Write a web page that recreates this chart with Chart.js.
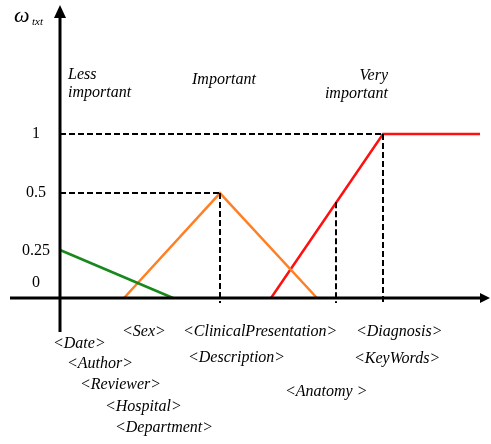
<!DOCTYPE html>
<html>
<head>
<meta charset="utf-8">
<script src="https://cdn.jsdelivr.net/npm/chart.js@4/dist/chart.umd.min.js"></script>
<style>
    html, body { margin: 0; padding: 0; background: #fff; }
    #wrap { position: relative; width: 491px; height: 444px; }
</style>
</head>
<body>
<div id="wrap"><canvas id="chart" width="491" height="444"></canvas></div>
<script>
// Y tick labels and the drawn heights where they sit (the sketch is not to scale)
const yTickLabels = ['0', '0.25', '0.5', '1'];
const yTickHeights = [0.09, 0.29, 0.64, 1];

// Membership functions (x in sketch units, y as drawn height)
const lessImportant = [{ x: 0, y: 0.293 }, { x: 113, y: 0 }];
const important = [{ x: 64, y: 0 }, { x: 160, y: 0.64 }, { x: 257, y: 0 }];
const veryImportant = [{ x: 211, y: 0 }, { x: 323, y: 1 }, { x: 420, y: 1 }];

// Dashed guide lines
const guideTop = [{ x: 0, y: 1 }, { x: 323, y: 1 }];
const guideMid = [{ x: 0, y: 0.64 }, { x: 160, y: 0.64 }];
const guidePeak = [{ x: 160, y: 0.64 }, { x: 160, y: -0.03 }];
const guideAnatomy = [{ x: 276, y: 0.585 }, { x: 276, y: -0.03 }];
const guideVery = [{ x: 323, y: 1 }, { x: 323, y: -0.03 }];

// Category headings and attribute tags
const headings = ['Less', 'important', 'Important', 'Very', 'important'];
const tags = ['<Sex>', '<Date>', '<Author>', '<Reviewer>', '<Hospital>', '<Department>',
    '<ClinicalPresentation>', '<Description>', '<Diagnosis>', '<KeyWords>', '<Anatomy >'];

// Layout of texts (pixels)
const headingPos = [[68, 75, 'left'], [68, 93, 'left'], [192, 80, 'left'], [388, 76, 'right'], [388, 94, 'right']];
const tagPos = [[122, 332], [53, 344], [67, 364], [80, 385], [105, 407], [115, 428],
    [183, 332], [188, 358], [356, 332], [354, 359], [285, 392]];

const textFont = 'italic 16px "Liberation Serif", "DejaVu Serif", serif';

function dashed(data) {
    return {
        data: data,
        borderColor: '#000',
        borderWidth: 2,
        borderDash: [6, 3],
        pointRadius: 0,
        fill: false
    };
}

function solid(data, color) {
    return {
        data: data,
        borderColor: color,
        borderWidth: 2.5,
        pointRadius: 0,
        fill: false
    };
}

const sketchPlugin = {
    id: 'sketch',
    afterDatasetsDraw(chart) {
        const ctx = chart.ctx;
        const xs = chart.scales.x;
        const ys = chart.scales.y;
        const x0 = xs.getPixelForValue(0);
        const y0 = ys.getPixelForValue(0);
        const area = chart.chartArea;

        ctx.save();
        ctx.strokeStyle = '#000';
        ctx.fillStyle = '#000';
        ctx.lineWidth = 3;

        // y axis with arrow
        ctx.beginPath();
        ctx.moveTo(x0, y0 + 34);
        ctx.lineTo(x0, area.top + 12);
        ctx.stroke();
        ctx.beginPath();
        ctx.moveTo(x0, area.top + 2);
        ctx.lineTo(x0 - 6, area.top + 15);
        ctx.lineTo(x0 + 6, area.top + 15);
        ctx.closePath();
        ctx.fill();

        // x axis with arrow
        ctx.beginPath();
        ctx.moveTo(area.left, y0);
        ctx.lineTo(area.right - 8, y0);
        ctx.stroke();
        ctx.beginPath();
        ctx.moveTo(area.right, y0);
        ctx.lineTo(area.right - 10, y0 - 5);
        ctx.lineTo(area.right - 10, y0 + 5);
        ctx.closePath();
        ctx.fill();

        // y tick labels
        ctx.font = '16px "Liberation Serif", "DejaVu Serif", serif';
        ctx.textAlign = 'center';
        ctx.textBaseline = 'middle';
        yTickLabels.forEach((lab, i) => {
            ctx.fillText(lab, x0 - 24, ys.getPixelForValue(yTickHeights[i]));
        });

        // omega label
        ctx.textAlign = 'left';
        ctx.font = 'italic 22px "Liberation Serif", "DejaVu Serif", serif';
        ctx.fillText('\u03C9', 14, 16);
        ctx.font = 'italic 11px "Liberation Serif", "DejaVu Serif", serif';
        ctx.fillText('txt', 32, 22);

        // headings and tags
        ctx.font = textFont;
        headings.forEach((h, i) => {
            const p = headingPos[i];
            ctx.textAlign = p[2];
            ctx.fillText(h, p[0], p[1]);
        });
        ctx.textAlign = 'left';
        tags.forEach((t, i) => {
            ctx.fillText(t, tagPos[i][0], tagPos[i][1]);
        });
        ctx.restore();
    }
};

new Chart(document.getElementById('chart'), {
    type: 'line',
    data: {
        datasets: [
            dashed(guideTop),
            dashed(guideMid),
            dashed(guidePeak),
            dashed(guideAnatomy),
            dashed(guideVery),
            solid(lessImportant, '#17891c'),
            solid(important, '#ff7f24'),
            solid(veryImportant, '#ff1010')
        ]
    },
    options: {
        responsive: false,
        animation: false,
        events: [],
        layout: { padding: { left: 10, right: 1, top: 3, bottom: 146 } },
        plugins: {
            legend: { display: false },
            tooltip: { enabled: false }
        },
        scales: {
            x: { type: 'linear', min: -50, max: 430, display: false },
            y: { type: 'linear', min: 0, max: 1.8, display: false }
        },
        clip: false
    },
    plugins: [sketchPlugin]
});
</script>
</body>
</html>
